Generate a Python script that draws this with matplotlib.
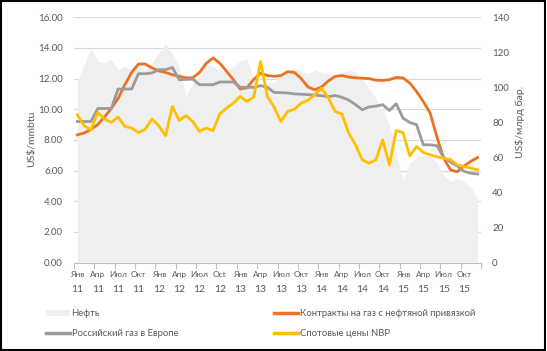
import numpy as np
import matplotlib
matplotlib.use('Agg')
import matplotlib.pyplot as plt
from matplotlib.lines import Line2D
from matplotlib.patches import Patch, Rectangle
import matplotlib.transforms as mtransforms

plt.rcParams['font.family'] = ['Lato', 'DejaVu Sans']

# monthly data Jan 2011 - Dec 2015
months = ['Янв', 'Апр', 'Июл', 'Окт', 'Янв', 'Апр', 'Июл', 'Oct', 'Янв', 'Апр',
          'Июл', 'Окт', 'Янв', 'Апр', 'Июл', 'Окт', 'Янв', 'Апр', 'Июл', 'Окт']
years = ['11'] * 4 + ['12'] * 4 + ['13'] * 4 + ['14'] * 4 + ['15'] * 4

oil = [104, 113, 122, 115, 114, 116, 110, 112, 110, 112, 110, 114,
       120, 125, 119, 112, 95, 102, 108, 113, 112, 110, 109, 112,
       115, 116, 104, 100, 102, 103, 107, 110, 111, 109, 108, 110,
       108, 108, 107, 108, 110, 109, 105, 99, 94, 87, 79, 62,
       47, 57, 60, 61, 61, 57, 50, 46, 48, 46, 43, 36]

oil_linked = [8.33, 8.45, 8.68, 9.0, 9.5, 10.05, 10.7, 11.6, 12.4, 12.95, 12.95, 12.7,
              12.5, 12.4, 12.25, 12.15, 12.05, 12.05, 12.4, 13.0, 13.35, 13.0, 12.47, 11.93,
              11.32, 11.4, 11.95, 12.35, 12.2, 12.15, 12.2, 12.45, 12.4, 12.0, 11.45, 11.27,
              11.45, 11.85, 12.14, 12.2, 12.1, 12.05, 12.03, 12.0, 11.9, 11.88, 11.93, 12.08,
              12.04, 11.71, 11.16, 10.5, 9.75, 8.2, 6.8, 6.05, 5.92, 6.3, 6.6, 6.85]

russian = [9.2, 9.2, 9.2, 10.05, 10.05, 10.05, 11.32, 11.32, 11.32, 12.32, 12.32, 12.37,
           12.58, 12.58, 12.73, 11.93, 11.95, 11.97, 11.6, 11.6, 11.6, 11.78, 11.78, 11.78,
           11.43, 11.43, 11.43, 11.54, 11.43, 11.1, 11.08, 11.06, 11.0, 10.98, 10.95, 10.92,
           10.88, 10.82, 10.9, 10.78, 10.6, 10.3, 9.97, 10.15, 10.2, 10.3, 9.92, 10.36,
           9.42, 9.14, 8.99, 7.68, 7.68, 7.62, 6.85, 6.55, 6.3, 5.95, 5.82, 5.78]

nbp = [9.64, 8.92, 8.66, 9.79, 9.36, 9.14, 9.49, 8.88, 8.77, 8.48, 8.7, 9.36,
       8.92, 8.27, 10.18, 9.27, 9.58, 9.2, 8.55, 8.77, 8.61, 9.7, 10.08, 10.4,
       10.84, 10.51, 10.8, 13.12, 10.84, 10.14, 9.2, 9.86, 10.01, 10.4, 10.58, 10.95,
       11.38, 10.73, 9.86, 9.69, 8.44, 7.68, 6.7, 6.48, 6.7, 8.0, 6.37, 8.61,
       8.48, 6.96, 7.57, 7.18, 7.03, 6.9, 6.8, 6.72, 6.37, 6.26, 6.16, 6.05]

x = np.arange(len(oil))
txt = '#595959'
c_area = '#EFEFEF'
c_orange = '#EB7125'
c_gray = '#9B9B9B'
c_yellow = '#FFBF00'

fig = plt.figure(figsize=(5.47, 3.51), dpi=100)
ax = fig.add_axes([74/547, 1-262.5/351, 407/547, (262.5-17.3)/351])
ax2 = ax.twinx()   # oil area, right scale
ax3 = ax.twinx()   # gas lines, left scale

# left axis: grid + labels
ax.set_ylim(0, 16)
ax.set_yticks(np.arange(0, 17, 2))
ax.set_yticklabels(['%.2f' % v for v in np.arange(0, 17, 2)])
ax.grid(axis='y', color='#D9D9D9', lw=0.8)
ax.set_axisbelow(True)
ax.tick_params(axis='y', length=0, pad=8, labelsize=7, labelcolor=txt)
ax.set_xlim(-0.5, len(x)-0.5)

# x axis ticks between quarters, labels on quarter months
ax.set_xticks(np.arange(-0.5, len(x), 3))
ax.set_xticklabels([])
ax.tick_params(axis='x', which='major', length=4, color='#BFBFBF', width=0.8)
ax.set_xticks(x[::3], minor=True)
ax.set_xticklabels(months, minor=True)
ax.tick_params(axis='x', which='minor', length=0, pad=6, labelsize=6, labelcolor=txt)
trans = mtransforms.blended_transform_factory(ax.transData, ax.transAxes)
for xi, yr in zip(x[::3], years):
    ax.text(xi, -0.112, yr, transform=trans, ha='center', va='center',
            fontsize=7.5, color=txt)

# oil area
ax2.fill_between(x, oil, 0, color=c_area, lw=0)
ax2.set_ylim(0, 140)
ax2.set_yticks(np.arange(0, 141, 20))
ax2.tick_params(axis='y', length=0, pad=8, labelsize=7, labelcolor=txt)

# gas lines
ax3.plot(x, oil_linked, color=c_orange, lw=2.0, solid_joinstyle='round')
ax3.plot(x, russian, color=c_gray, lw=2.0, solid_joinstyle='round')
ax3.plot(x, nbp, color=c_yellow, lw=2.0, solid_joinstyle='round')
ax3.set_ylim(ax.get_ylim())
ax3.set_yticks([])

for a in (ax, ax2, ax3):
    for s in ('top', 'left', 'right'):
        a.spines[s].set_visible(False)
    a.spines['bottom'].set_visible(a is ax)
ax.spines['bottom'].set_color('#BFBFBF')
ax.spines['bottom'].set_linewidth(0.8)

fig.text(32/547, 1-139/351, 'US$/mmbtu', rotation=90, ha='center', va='center',
         fontsize=7.5, color=txt)
fig.text(520/547, 1-122/351, 'US$/млрд бар.', rotation=90, ha='center', va='center',
         fontsize=7.5, color=txt)

handles = [Patch(facecolor=c_area, edgecolor='none'),
           Line2D([], [], color=c_gray, lw=2.5),
           Line2D([], [], color=c_orange, lw=2.5),
           Line2D([], [], color=c_yellow, lw=2.5)]
labels = ['Нефть', 'Российский газ в Европе',
          'Контракты на газ с нефтяной привязкой', 'Спотовые цены NBP']
fig.legend(handles, labels, ncol=2, loc='upper left', bbox_to_anchor=(46/547, 1-309/351),
           frameon=False, fontsize=6.8, labelcolor=txt, handlelength=2.5, handleheight=0.6,
           handletextpad=0.2, columnspacing=10.2, labelspacing=1.15, borderpad=0,
           borderaxespad=0)

fig.patches.append(Rectangle((0.002, 0.003), 0.995, 0.993, transform=fig.transFigure,
                             fill=False, edgecolor='black', lw=1.5))

fig.savefig('out.png', dpi=100)
